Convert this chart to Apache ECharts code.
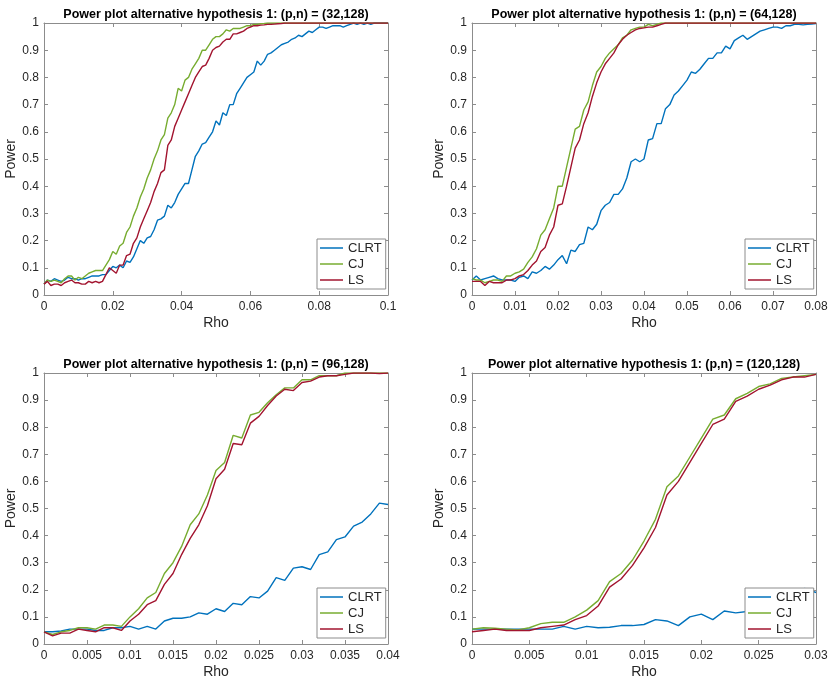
<!DOCTYPE html>
<html>
<head>
<meta charset="utf-8">
<script src="https://cdn.jsdelivr.net/npm/echarts@6/dist/echarts.min.js"></script>
<style>
    html, body { margin: 0; padding: 0; background: #fff; }
    #main { width: 831px; height: 682px; }
</style>
</head>
<body>
<div id="main"></div>
<script>

var seriesNames = ['CLRT', 'CJ', 'LS'];
var seriesColors = ['#0072BD', '#77AC30', '#A2142F'];

var titles = [
    'Power plot alternative hypothesis 1: (p,n) = (32,128)',
    'Power plot alternative hypothesis 1: (p,n) = (64,128)',
    'Power plot alternative hypothesis 1: (p,n) = (96,128)',
    'Power plot alternative hypothesis 1: (p,n) = (120,128)'
];

// rho step of every panel, x axis range and tick spacing
var rhoStep = [0.001, 0.001, 0.001, 0.001];
var rhoMax = [0.1, 0.08, 0.04, 0.03];
var rhoTick = [0.02, 0.01, 0.005, 0.005];

// (p,n) = (32,128), rho = 0 .. 0.1
var clrt1 = [0.04, 0.055, 0.05, 0.06, 0.055, 0.05, 0.055, 0.065, 0.06, 0.06,
    0.055, 0.06, 0.06, 0.065, 0.07, 0.07, 0.07, 0.075, 0.075, 0.09,
    0.105, 0.10, 0.11, 0.10, 0.125, 0.12, 0.14, 0.17, 0.20, 0.19,
    0.21, 0.215, 0.24, 0.275, 0.28, 0.29, 0.33, 0.32, 0.34, 0.37,
    0.39, 0.41, 0.41, 0.46, 0.51, 0.53, 0.555, 0.56, 0.58, 0.60,
    0.64, 0.625, 0.67, 0.66, 0.70, 0.70, 0.74, 0.76, 0.78, 0.80,
    0.81, 0.82, 0.86, 0.845, 0.86, 0.885, 0.89, 0.90, 0.91, 0.92,
    0.925, 0.93, 0.94, 0.945, 0.955, 0.95, 0.96, 0.97, 0.965, 0.975,
    0.985, 0.985, 0.98, 0.985, 0.99, 0.99, 0.99, 0.985, 0.99, 0.995,
    1.0, 0.995, 1.0, 0.995, 1.0, 0.995, 1.0, 1.0, 1.0, 1.0, 1.0];
var cj1 = [0.04, 0.055, 0.05, 0.055, 0.05, 0.045, 0.06, 0.07, 0.07, 0.055,
    0.065, 0.06, 0.07, 0.08, 0.085, 0.09, 0.09, 0.09, 0.11, 0.13,
    0.16, 0.15, 0.18, 0.19, 0.23, 0.25, 0.29, 0.32, 0.36, 0.39,
    0.43, 0.46, 0.50, 0.53, 0.57, 0.59, 0.65, 0.67, 0.70, 0.76,
    0.75, 0.79, 0.80, 0.83, 0.85, 0.87, 0.90, 0.90, 0.92, 0.94,
    0.95, 0.95, 0.96, 0.975, 0.97, 0.98, 0.98, 0.98, 0.985, 0.99,
    0.99, 0.995, 0.995, 0.997, 0.998, 1.0, 1.0, 1.0, 1.0, 1.0,
    1.0, 1.0, 1.0, 1.0, 1.0, 1.0, 1.0, 1.0, 1.0, 1.0,
    1.0, 1.0, 1.0, 1.0, 1.0, 1.0, 1.0, 1.0, 1.0, 1.0,
    1.0, 1.0, 1.0, 1.0, 1.0, 1.0, 1.0, 1.0, 1.0, 1.0, 1.0];
var ls1 = [0.04, 0.05, 0.035, 0.04, 0.04, 0.035, 0.045, 0.05, 0.055, 0.045,
    0.045, 0.04, 0.04, 0.05, 0.045, 0.05, 0.045, 0.05, 0.075, 0.10,
    0.09, 0.08, 0.11, 0.11, 0.145, 0.15, 0.19, 0.21, 0.25, 0.28,
    0.31, 0.34, 0.38, 0.41, 0.45, 0.46, 0.55, 0.57, 0.62, 0.65,
    0.68, 0.71, 0.74, 0.77, 0.80, 0.82, 0.84, 0.845, 0.87, 0.90,
    0.91, 0.915, 0.93, 0.94, 0.94, 0.96, 0.96, 0.965, 0.97, 0.98,
    0.985, 0.99, 0.99, 0.992, 0.993, 0.995, 0.995, 0.996, 0.997, 0.998,
    1.0, 1.0, 1.0, 1.0, 1.0, 1.0, 1.0, 1.0, 1.0, 1.0,
    1.0, 1.0, 1.0, 1.0, 1.0, 1.0, 1.0, 1.0, 1.0, 1.0,
    1.0, 1.0, 1.0, 1.0, 1.0, 1.0, 1.0, 1.0, 1.0, 1.0, 1.0];

// (p,n) = (64,128), rho = 0 .. 0.08
var clrt2 = [0.055, 0.07, 0.055, 0.06, 0.065, 0.07, 0.06, 0.055, 0.055, 0.055,
    0.05, 0.065, 0.07, 0.06, 0.085, 0.08, 0.09, 0.105, 0.095, 0.11,
    0.13, 0.145, 0.115, 0.165, 0.16, 0.185, 0.19, 0.25, 0.24, 0.26,
    0.31, 0.33, 0.34, 0.37, 0.37, 0.39, 0.43, 0.49, 0.50, 0.49,
    0.50, 0.57, 0.575, 0.63, 0.63, 0.685, 0.70, 0.735, 0.75, 0.77,
    0.79, 0.82, 0.815, 0.83, 0.85, 0.87, 0.87, 0.89, 0.89, 0.915,
    0.905, 0.935, 0.945, 0.955, 0.94, 0.95, 0.96, 0.97, 0.975, 0.98,
    0.985, 0.985, 0.98, 0.99, 0.99, 0.995, 0.995, 0.993, 0.995, 0.996, 0.998];
var cj2 = [0.06, 0.055, 0.055, 0.045, 0.05, 0.055, 0.055, 0.05, 0.07, 0.07,
    0.08, 0.085, 0.095, 0.12, 0.14, 0.17, 0.22, 0.24, 0.28, 0.32,
    0.40, 0.40, 0.47, 0.54, 0.61, 0.62, 0.68, 0.71, 0.77, 0.82,
    0.84, 0.87, 0.89, 0.905, 0.92, 0.945, 0.955, 0.975, 0.98, 0.985,
    0.985, 0.995, 0.99, 0.995, 1.0, 1.0, 1.0, 1.0, 1.0, 1.0,
    1.0, 1.0, 1.0, 1.0, 1.0, 1.0, 1.0, 1.0, 1.0, 1.0,
    1.0, 1.0, 1.0, 1.0, 1.0, 1.0, 1.0, 1.0, 1.0, 1.0,
    1.0, 1.0, 1.0, 1.0, 1.0, 1.0, 1.0, 1.0, 1.0, 1.0, 1.0];
var ls2 = [0.05, 0.05, 0.05, 0.035, 0.05, 0.045, 0.045, 0.045, 0.055, 0.055,
    0.06, 0.07, 0.075, 0.09, 0.11, 0.125, 0.16, 0.175, 0.22, 0.25,
    0.33, 0.335, 0.40, 0.47, 0.54, 0.57, 0.63, 0.67, 0.73, 0.78,
    0.82, 0.85, 0.87, 0.89, 0.92, 0.94, 0.955, 0.965, 0.975, 0.98,
    0.982, 0.985, 0.985, 0.99, 0.995, 1.0, 1.0, 1.0, 1.0, 1.0,
    1.0, 1.0, 1.0, 1.0, 1.0, 1.0, 1.0, 1.0, 1.0, 1.0,
    1.0, 1.0, 1.0, 1.0, 1.0, 1.0, 1.0, 1.0, 1.0, 1.0,
    1.0, 1.0, 1.0, 1.0, 1.0, 1.0, 1.0, 1.0, 1.0, 1.0, 1.0];

// (p,n) = (96,128), rho = 0 .. 0.04
var clrt3 = [0.045, 0.045, 0.048, 0.055, 0.055, 0.055, 0.05, 0.05, 0.06, 0.06,
    0.065, 0.055, 0.065, 0.055, 0.085, 0.095, 0.095, 0.10, 0.115, 0.11,
    0.13, 0.12, 0.15, 0.145, 0.175, 0.17, 0.195, 0.245, 0.235, 0.28,
    0.285, 0.275, 0.33, 0.34, 0.385, 0.395, 0.435, 0.45, 0.48, 0.52, 0.515];
var cj3 = [0.045, 0.035, 0.045, 0.05, 0.06, 0.06, 0.055, 0.07, 0.07, 0.065,
    0.10, 0.13, 0.17, 0.19, 0.26, 0.30, 0.36, 0.44, 0.48, 0.55,
    0.64, 0.67, 0.77, 0.76, 0.845, 0.855, 0.89, 0.92, 0.945, 0.945,
    0.975, 0.975, 0.99, 0.99, 0.99, 1.0, 1.0, 1.0, 1.0, 1.0, 1.0];
var ls3 = [0.045, 0.03, 0.04, 0.04, 0.055, 0.05, 0.045, 0.06, 0.06, 0.05,
    0.085, 0.11, 0.145, 0.16, 0.22, 0.26, 0.33, 0.39, 0.44, 0.51,
    0.61, 0.645, 0.74, 0.735, 0.815, 0.84, 0.88, 0.915, 0.94, 0.935,
    0.965, 0.97, 0.985, 0.99, 0.99, 0.995, 1.0, 1.0, 1.0, 0.998, 1.0];

// (p,n) = (120,128), rho = 0 .. 0.03
var clrt4 = [0.055, 0.055, 0.055, 0.055, 0.055, 0.055, 0.055, 0.055, 0.065, 0.055,
    0.065, 0.06, 0.062, 0.068, 0.068, 0.072, 0.09, 0.085, 0.068, 0.10,
    0.11, 0.09, 0.122, 0.115, 0.12, 0.13, 0.14, 0.15, 0.17, 0.205, 0.19];
var cj4 = [0.055, 0.06, 0.058, 0.055, 0.052, 0.06, 0.075, 0.08, 0.08, 0.10,
    0.125, 0.16, 0.23, 0.26, 0.31, 0.38, 0.46, 0.58, 0.62, 0.69,
    0.76, 0.83, 0.845, 0.905, 0.925, 0.95, 0.96, 0.98, 0.985, 0.99, 0.995];
var ls4 = [0.045, 0.05, 0.055, 0.05, 0.05, 0.05, 0.06, 0.065, 0.07, 0.09,
    0.105, 0.14, 0.21, 0.24, 0.29, 0.355, 0.43, 0.55, 0.60, 0.67,
    0.74, 0.81, 0.83, 0.895, 0.915, 0.94, 0.955, 0.975, 0.985, 0.985, 0.995];

var panelData = [
    [clrt1, cj1, ls1],
    [clrt2, cj2, ls2],
    [clrt3, cj3, ls3],
    [clrt4, cj4, ls4]
];

var grids = [
    { left: 44, top: 23, width: 344, height: 272 },
    { left: 472, top: 23, width: 344, height: 272 },
    { left: 44, top: 373, width: 344, height: 271 },
    { left: 472, top: 373, width: 344, height: 271 }
];

var fontFamily = '"Liberation Sans", Arial, Helvetica, sans-serif';
var boxColor = '#8c8c8c';
var textColor = '#262626';

var toPairs = function (values, step) {
    return values.map(function (v, i) {
        return [i * step, v];
    });
};

var makeAxis = function (k, isX, primary) {
    var axis = {
        type: 'value',
        gridIndex: k,
        min: 0,
        max: isX ? rhoMax[k] : 1,
        interval: isX ? rhoTick[k] : 0.1,
        position: isX ? (primary ? 'bottom' : 'top') : (primary ? 'left' : 'right'),
        splitLine: { show: false },
        axisLine: { show: true, onZero: false, lineStyle: { color: boxColor, width: 1 } },
        axisTick: { show: true, inside: true, length: 4, lineStyle: { color: boxColor } },
        axisLabel: {
            show: primary,
            color: textColor,
            fontSize: 12,
            fontFamily: fontFamily,
            margin: isX ? 6 : 5
        }
    };
    if (primary) {
        axis.name = isX ? 'Rho' : 'Power';
        axis.nameLocation = 'middle';
        axis.nameGap = isX ? 21 : 24;
        axis.nameTextStyle = { color: textColor, fontSize: 14, fontFamily: fontFamily };
    }
    return axis;
};

var eChart = function () {

    // init chart
    var myChart = echarts.init(document.getElementById('main'));

    var title = [], grid = [], xAxis = [], yAxis = [], legend = [], series = [];

    for (var k = 0; k < 4; k++) {
        var g = grids[k];
        grid.push({ left: g.left, top: g.top, width: g.width, height: g.height, containLabel: false });
        title.push({
            text: titles[k],
            left: g.left + g.width / 2,
            top: g.top - 15,
            textAlign: 'center',
            padding: 0,
            textStyle: { color: '#000', fontSize: 12.5, fontWeight: 'bold', fontFamily: fontFamily }
        });
        xAxis.push(makeAxis(k, true, true));
        yAxis.push(makeAxis(k, false, true));
        xAxis.push(makeAxis(k, true, false));
        yAxis.push(makeAxis(k, false, false));
        legend.push({
            orient: 'vertical',
            left: g.left + g.width - 71,
            top: g.top + g.height - 56,
            data: seriesNames,
            icon: 'rect',
            itemWidth: 23,
            itemHeight: 1.5,
            itemGap: 0,
            itemTextGap: 3,
            padding: [1, 4, 1, 3],
            backgroundColor: '#fff',
            borderColor: boxColor,
            borderWidth: 1,
            borderRadius: 0,
            selectedMode: false,
            textStyle: { color: textColor, fontSize: 13, lineHeight: 16, fontFamily: fontFamily }
        });
        for (var s = 0; s < 3; s++) {
            series.push({
                name: seriesNames[s],
                type: 'line',
                xAxisIndex: k * 2,
                yAxisIndex: k * 2,
                showSymbol: false,
                symbol: 'none',
                animation: false,
                z: 2 + s,
                itemStyle: { color: seriesColors[s] },
                lineStyle: { color: seriesColors[s], width: 1.4 },
                data: toPairs(panelData[k][s], rhoStep[k])
            });
        }
    }

    var option = {
        backgroundColor: '#fff',
        animation: false,
        title: title,
        grid: grid,
        xAxis: xAxis,
        yAxis: yAxis,
        legend: legend,
        series: series
    };

    // render
    myChart.setOption(option);
};

eChart();

</script>
</body>
</html>
